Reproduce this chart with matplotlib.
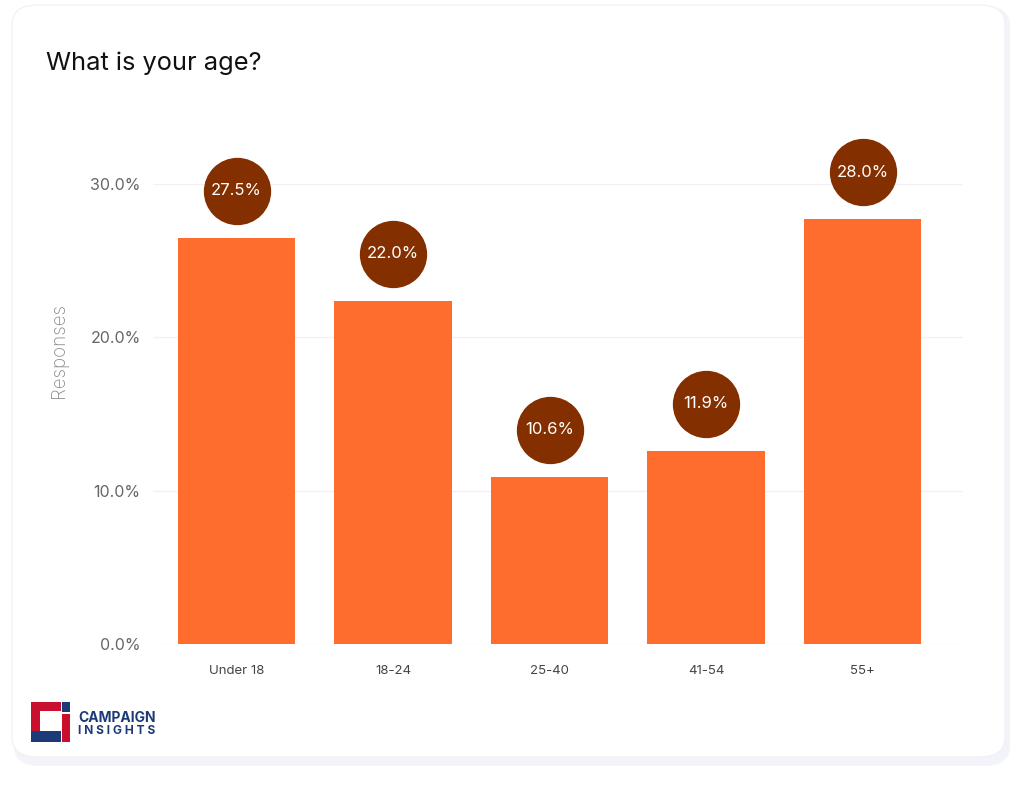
import matplotlib
matplotlib.use("Agg")
import matplotlib.pyplot as plt
from matplotlib.patches import FancyBboxPatch, Rectangle
from matplotlib.transforms import offset_copy

plt.rcParams['font.family'] = ['Inter', 'DejaVu Sans']

# data
categories = ["Under 18", "18-24", "25-40", "41-54", "55+"]
bar_values = [26.5, 22.4, 10.9, 12.6, 27.7]
bubble_labels = ["27.5%", "22.0%", "10.6%", "11.9%", "28.0%"]
y_ticks = [0, 10, 20, 30]
y_tick_labels = ["0.0%", "10.0%", "20.0%", "30.0%"]

W, H = 1024, 785
fig = plt.figure(figsize=(W / 100, H / 100), dpi=100)
fig.patch.set_facecolor("white")

# card with soft shadow
shadow = FancyBboxPatch((14 / W, 1 - 766 / H), 996 / W, 760 / H,
                        boxstyle="round,pad=0,rounding_size=0.025",
                        transform=fig.transFigure, facecolor="#f3f4f9",
                        edgecolor="none", zorder=-3)
card = FancyBboxPatch((12 / W, 1 - 757 / H), 993 / W, 752 / H,
                      boxstyle="round,pad=0,rounding_size=0.025",
                      transform=fig.transFigure, facecolor="white",
                      edgecolor="#f0f0f4", linewidth=0.8, zorder=-2)
fig.patches.extend([shadow, card])

fig.text(46 / W, 1 - 63 / H, "What is your age?", fontsize=18.3,
         color="#111111", va="center", ha="left")

ax = fig.add_axes([153 / W, 1 - 644 / H, 810 / W, 460 / H])
ax.set_zorder(5)
ax.set_facecolor("none")
x = list(range(len(categories)))
ax.bar(x, bar_values, width=0.75, color="#ff6d2e", zorder=3)
ax.set_xlim(-0.534, 4.642)
ax.set_ylim(0, 30)

for y in y_ticks:
    ax.axhline(y, color="#f6eef0", linewidth=1.0, zorder=1)

ax.set_yticks(y_ticks)
ax.set_yticklabels(y_tick_labels, fontsize=11.5, color="#666666")
ax.set_xticks(x)
ax.set_xticklabels(categories, fontsize=9.5, color="#444444")
ax.tick_params(axis="y", length=0, pad=9)
ax.tick_params(axis="x", length=0, pad=15)
for s in ax.spines.values():
    s.set_visible(False)

fig.text(59 / W, 1 - 350 / H, "Responses", fontsize=13.5, color="#8c8c8c",
         rotation=90, ha="center", va="center", fontweight="light")

# value bubbles above the bars
bubble_tr = offset_copy(ax.transData, fig=fig, y=47, units="dots")
ax.scatter(x, bar_values, s=2350, color="#842f00", transform=bubble_tr,
           zorder=5, clip_on=False, linewidths=0)
for xi, v, lab in zip(x, bar_values, bubble_labels):
    ax.text(xi, v, lab, transform=bubble_tr, ha="center", va="center",
            fontsize=12, color="white", zorder=6, clip_on=False)

# logo
red, navy = "#c8102e", "#1d3a78"
logo = [
    (31, 702, 30, 9, red),
    (31, 702, 9, 30, red),
    (31, 731, 30, 11, navy),
    (62, 702, 8, 10, navy),
    (62, 714, 8, 28, red),
]
for lx, ly, lw, lh, c in logo:
    fig.patches.append(Rectangle((lx / W, 1 - (ly + lh) / H), lw / W, lh / H,
                                 transform=fig.transFigure, facecolor=c,
                                 edgecolor="none", zorder=3))
fig.text(78 / W, 1 - 718 / H, "CAMPAIGN", fontsize=10, fontweight="bold",
         color=navy, va="center", ha="left")
fig.text(78 / W, 1 - 731 / H, "I N S I G H T S", fontsize=8.6, fontweight="bold",
         color=navy, va="center", ha="left")

fig.savefig("out.png", dpi=100)
